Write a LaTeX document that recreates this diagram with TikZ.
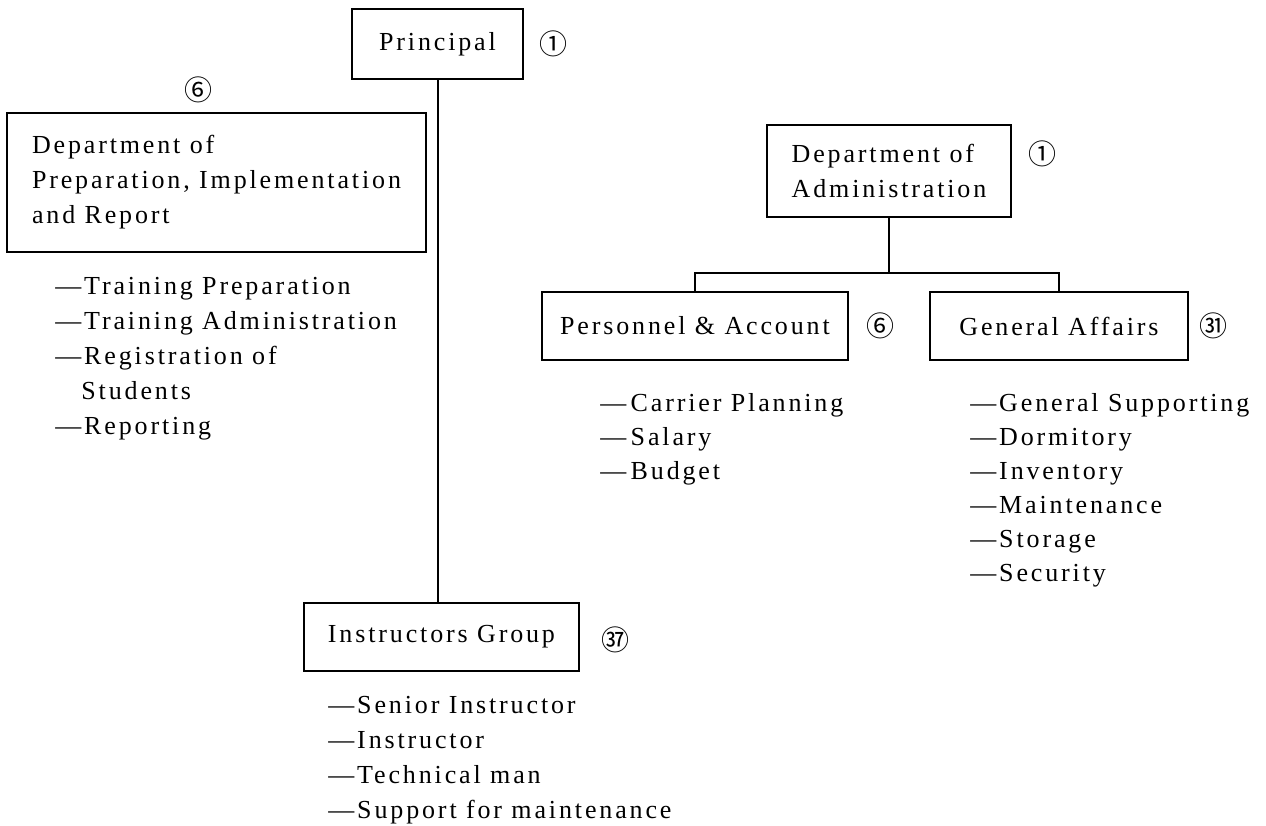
\documentclass[tikz,border=0pt]{standalone}
\usepackage{fontspec}
\setmainfont{Liberation Serif}[LetterSpace=11]
\newfontfamily\cjk{Noto Sans CJK SC}

\tikzset{
  unit/.style={draw, line width=1pt, inner sep=0pt, align=left,
    font=\fontsize{13}{17.5}\selectfont},
  item/.style={anchor=west, inner sep=0pt, text height=9pt, text depth=3pt,
    font=\fontsize{13}{17.5}\selectfont},
  staff/.style={inner sep=0pt, font=\cjk\fontsize{14}{14}\selectfont},
  link/.style={line width=1pt}
}

\begin{document}
\begin{tikzpicture}[x=0.5pt, y=-0.5pt]
    \fill[white] (0,0) rectangle (1266,826);
    \useasboundingbox (0,0) rectangle (1266,826);

    % Principal on top, instructors at the bottom of the same line
    \node[unit, minimum width=85.5pt, minimum height=35pt] (principal) at (437.5,44) {Principal};
    \node[staff] (principal-n) at (553,44) {①};
    \node[unit, minimum width=137.5pt, minimum height=34pt] (instr) at (441.5,637) {Instructors Group};
    \node[staff] (instr-n) at (615,640) {㊲};
    \draw[link] (principal.south) -- (principal.south |- instr.north);

    % Department of preparation (left)
    \node[staff] (prep-n) at (198,90) {⑥};
    \node[unit, minimum width=209.5pt, minimum height=69.5pt] (prep) at (216.5,182.5)
        {Department of\\Preparation, Implementation\\and Report};

    % Department of administration and its two sections
    \node[unit, minimum width=122pt, minimum height=46pt] (admin) at (889,171) {Department of\\Administration};
    \node[staff] (admin-n) at (1042,154) {①};
    \node[unit, minimum width=153pt, minimum height=34pt] (pers) at (695,326) {Personnel \& Account};
    \node[staff] (pers-n) at (880,326) {⑥};
    \node[unit, minimum width=129pt, minimum height=34pt] (ga) at (1059,326) {General Affairs};
    \node[staff] (ga-n) at (1213,326) {㉛};
    \coordinate (bar) at (889,273);
    \draw[link] (admin.south) -- (admin.south |- bar);
    \draw[link] (pers.north) |- (bar) -| (ga.north);

    % task lists
    \foreach \txt [count=\i from 0] in {—Training Preparation, —Training Administration,
        —Registration of, \hphantom{—}Students, —Reporting}
        \node[item] (prep\i) at (55,288+35*\i) {\txt};
    \foreach \txt [count=\i from 0] in {—\,Carrier Planning, —\,Salary, —\,Budget}
        \node[item] (pers\i) at (600,405+34*\i) {\txt};
    \foreach \txt [count=\i from 0] in {—General Supporting, —Dormitory, —Inventory,
        —Maintenance, —Storage, —Security}
        \node[item] (ga\i) at (970,405+34*\i) {\txt};
    \foreach \txt [count=\i from 0] in {—Senior Instructor, —Instructor, —Technical man,
        —Support for maintenance}
        \node[item] (instr\i) at (328,707+35*\i) {\txt};

\end{tikzpicture}
\end{document}
